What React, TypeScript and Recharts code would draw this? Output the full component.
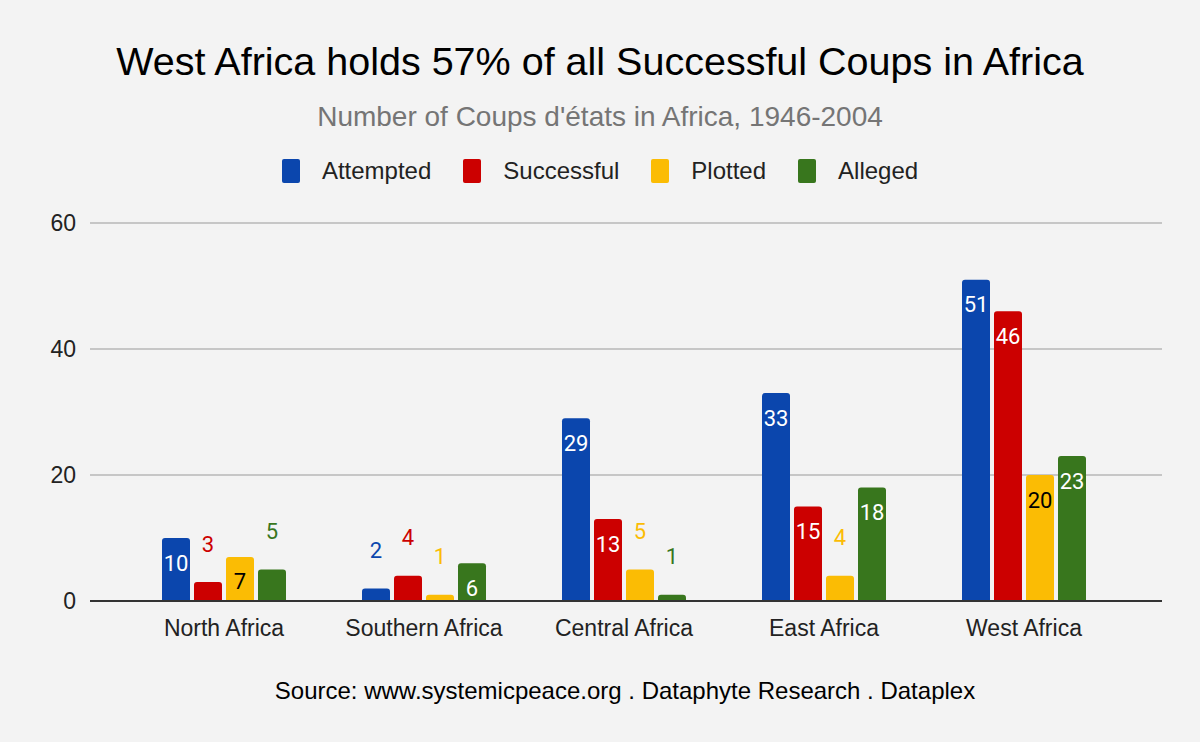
import { BarChart, Bar, XAxis, YAxis, CartesianGrid, LabelList } from "recharts";

const regions = ["North Africa", "Southern Africa", "Central Africa", "East Africa", "West Africa"];
const attempted = [10, 2, 29, 33, 51];
const successful = [3, 4, 13, 15, 46];
const plotted = [7, 1, 5, 4, 20];
const alleged = [5, 6, 1, 18, 23];
const yTicks = [0, 20, 40, 60];

const series = [
  { key: "attempted", name: "Attempted", color: "#0b46ad", inside: "#ffffff" },
  { key: "successful", name: "Successful", color: "#cc0000", inside: "#ffffff" },
  { key: "plotted", name: "Plotted", color: "#fbbc04", inside: "#000000" },
  { key: "alleged", name: "Alleged", color: "#38761d", inside: "#ffffff" },
];

const chartData = regions.map((region, i) => ({
  region,
  attempted: attempted[i],
  successful: successful[i],
  plotted: plotted[i],
  alleged: alleged[i],
}));

const sans = "'Liberation Sans', Arial, sans-serif";

const makeLabel = (color: string, insideColor: string) => (props: any) => {
  const { x, y, width, height, value } = props;
  const inside = height > 34;
  return (
    <text
      x={x + width / 2}
      y={inside ? y + 25 : y - 38}
      textAnchor="middle"
      dominantBaseline="central"
      fill={inside ? insideColor : color}
      fontSize={22}
      fontFamily="Roboto"
    >
      {value}
    </text>
  );
};

export default function App() {
  return (
    <div
      style={{
        position: "absolute",
        left: 0,
        top: 0,
        width: 1200,
        height: 742,
        background: "#f3f3f3",
        fontFamily: sans,
      }}
    >
      <div style={{ position: "absolute", top: 42, width: 1200, textAlign: "center", fontSize: 39.5, lineHeight: "39.5px", color: "#000", whiteSpace: "nowrap" }}>
        West Africa holds 57% of all Successful Coups in Africa
      </div>
      <div style={{ position: "absolute", top: 103, width: 1200, textAlign: "center", fontSize: 28, lineHeight: "28px", color: "#757575" }}>
        Number of Coups d'états in Africa, 1946-2004
      </div>
      <div style={{ position: "absolute", top: 159, width: 1200, display: "flex", justifyContent: "center", fontSize: 24, color: "#222" }}>
        {series.map((s) => (
          <div key={s.key} style={{ display: "flex", alignItems: "center", margin: "0 16px" }}>
            <div style={{ width: 18, height: 24, background: s.color, borderRadius: 2, marginRight: 22 }} />
            <span style={{ lineHeight: "24px" }}>{s.name}</span>
          </div>
        ))}
      </div>
      <div style={{ position: "absolute", top: 679, left: 50, width: 1150, textAlign: "center", fontSize: 24, lineHeight: "24px", color: "#000" }}>
        Source: www.systemicpeace.org . Dataphyte Research . Dataplex
      </div>
      <div style={{ position: "absolute", left: 0, top: 0 }}>
        <BarChart
          width={1200}
          height={742}
          data={chartData}
          margin={{ top: 223, right: 38, left: 0, bottom: 101 }}
          barGap={4}
          barSize={28}
        >
          <CartesianGrid vertical={false} stroke="#b7b7b7" strokeWidth={1.5} />
          <XAxis
            dataKey="region"
            height={40}
            padding={{ left: 34, right: 38 }}
            tickLine={false}
            axisLine={{ stroke: "#333333", strokeWidth: 2 }}
            tick={{ fontSize: 23, fill: "#222", fontFamily: sans }}
            tickMargin={13}
          />
          <YAxis
            width={90}
            domain={[0, 60]}
            ticks={yTicks}
            tickLine={false}
            axisLine={false}
            tickSize={0}
            tickMargin={14}
            tick={{ fontSize: 23, fill: "#222", fontFamily: sans }}
          />
          {series.map((s) => (
            <Bar key={s.key} dataKey={s.key} name={s.name} fill={s.color} radius={[3, 3, 0, 0]} isAnimationActive={false}>
              <LabelList dataKey={s.key} content={makeLabel(s.color, s.inside)} />
            </Bar>
          ))}
        </BarChart>
      </div>
    </div>
  );
}
